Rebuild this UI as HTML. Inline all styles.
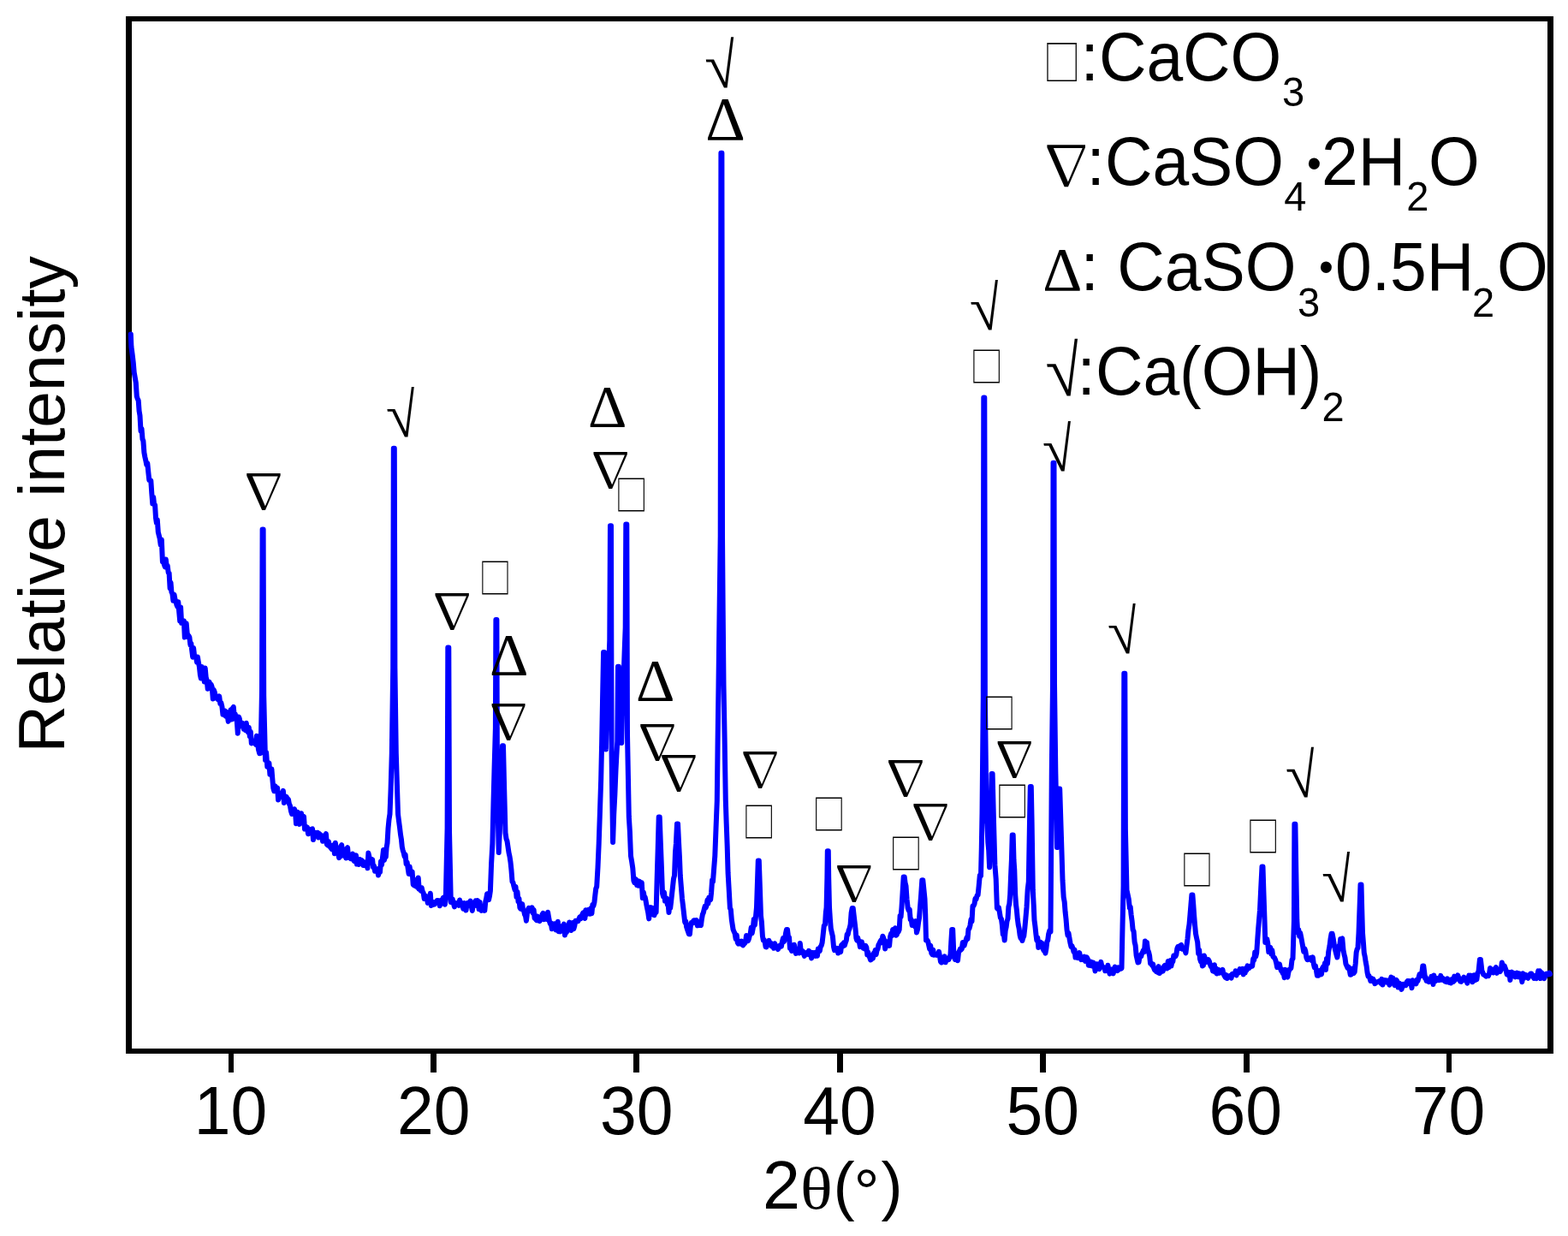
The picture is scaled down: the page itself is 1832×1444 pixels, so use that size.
<!DOCTYPE html>
<html lang="en"><head><meta charset="utf-8"><title>XRD pattern</title>
<style>html,body{margin:0;padding:0;background:#fff}svg{display:block}</style></head>
<body>
<svg width="1832" height="1444" viewBox="0 0 1832 1444">
<rect x="0" y="0" width="1832" height="1444" fill="#fff"/>
<g fill="#000">
<rect x="147" y="19" width="1668" height="6"/>
<rect x="147" y="1225" width="1668" height="6"/>
<rect x="147" y="19" width="7" height="1212"/>
<rect x="1808" y="19" width="7" height="1212"/>
<rect x="267" y="1230" width="6" height="23"/>
<rect x="503" y="1230" width="7" height="23"/>
<rect x="740" y="1230" width="7" height="23"/>
<rect x="978" y="1230" width="7" height="23"/>
<rect x="1215" y="1230" width="7" height="23"/>
<rect x="1453" y="1230" width="7" height="23"/>
<rect x="1690" y="1230" width="6" height="23"/>
</g>
<g transform="scale(1 1.04)" font-family="'Liberation Sans', sans-serif" font-size="76.8" fill="#000" text-anchor="middle">
<text x="269.5" y="1273.85">10</text>
<text x="506.7" y="1273.85">20</text>
<text x="743.8" y="1273.85">30</text>
<text x="981.0" y="1273.85">40</text>
<text x="1218.2" y="1273.85">50</text>
<text x="1455.3" y="1273.85">60</text>
<text x="1692.5" y="1273.85">70</text>
</g>
<text font-family="'Liberation Sans', sans-serif" font-size="76.8"><tspan x="891" y="1411.6" font-size="79">2</tspan><tspan x="935.0" y="1412.2" font-family="'Liberation Serif', 'Noto Serif CJK SC', serif" font-size="68.8" textLength="37.7" lengthAdjust="spacingAndGlyphs">θ</tspan><tspan x="973.6" y="1411.1" font-size="75.5">(</tspan><tspan x="997.6" y="1418.1" font-size="75">°</tspan><tspan x="1029.5" y="1411.1" font-size="75.5">)</tspan></text>
<text transform="translate(75.4 879.6) rotate(-90)" font-family="'Liberation Sans', sans-serif" font-size="76.8">Relative intensity</text>
<path d="M152.8,390.5 L153.4,405.0 L154.6,414.0 L155.7,423.0 L156.7,434.9 L157.8,441.2 L158.8,447.2 L159.8,463.0 L160.7,465.7 L161.7,467.9 L162.6,480.3 L163.5,485.6 L164.5,503.4 L165.5,500.7 L166.5,513.0 L167.4,515.2 L168.4,528.7 L169.4,534.1 L170.3,538.0 L171.3,543.3 L172.3,541.2 L173.3,551.6 L174.3,560.9 L175.3,561.0 L176.3,561.5 L177.3,576.4 L178.3,588.6 L179.2,580.7 L180.1,589.2 L181.1,590.1 L182.0,605.0 L182.9,611.0 L183.8,607.2 L184.8,621.6 L185.7,625.3 L186.6,628.7 L187.7,636.6 L188.8,630.5 L189.9,656.0 L190.9,654.4 L191.8,659.4 L192.8,662.3 L193.8,653.5 L194.8,662.2 L195.7,660.8 L196.7,669.0 L197.6,669.4 L198.6,687.1 L199.5,680.6 L200.4,691.5 L201.4,693.6 L202.4,701.8 L203.5,694.6 L204.5,700.0 L205.5,703.0 L206.4,706.5 L207.4,708.9 L208.3,703.3 L209.2,714.5 L210.2,725.6 L211.1,709.4 L212.1,727.8 L213.0,725.0 L213.9,728.0 L214.9,725.3 L215.8,744.6 L216.8,738.8 L217.7,728.3 L218.6,738.8 L219.6,744.2 L220.5,742.7 L221.4,744.6 L222.4,753.4 L223.3,751.7 L224.2,759.6 L225.2,767.7 L226.1,757.1 L227.1,766.0 L228.0,767.8 L229.0,767.3 L230.0,773.6 L230.9,767.5 L231.9,773.9 L232.9,778.9 L233.9,788.4 L234.8,792.5 L235.8,778.9 L236.8,790.0 L237.8,785.9 L238.8,796.4 L239.7,780.4 L240.7,791.4 L241.7,794.9 L242.7,804.8 L243.6,802.3 L244.6,796.8 L245.6,800.0 L246.7,799.8 L247.7,802.8 L248.8,816.5 L249.8,806.1 L250.9,809.1 L251.9,815.6 L253.0,815.5 L254.1,816.4 L255.1,817.6 L256.2,813.3 L257.3,822.1 L258.3,821.0 L259.4,825.5 L260.4,834.8 L261.5,833.1 L262.5,830.4 L263.6,836.6 L264.6,831.7 L265.7,835.6 L266.7,842.9 L267.7,836.6 L268.7,840.9 L269.7,829.2 L270.8,840.4 L271.8,827.6 L272.8,825.9 L273.8,837.6 L274.8,834.3 L275.8,840.6 L276.8,842.4 L277.8,856.7 L278.8,837.4 L279.8,839.5 L280.8,845.6 L281.8,848.2 L282.8,844.6 L283.8,845.2 L284.8,851.8 L285.8,848.0 L286.8,853.1 L287.8,844.8 L288.8,852.8 L289.8,855.3 L290.8,850.0 L291.8,860.3 L292.8,854.8 L293.8,868.4 L294.8,865.2 L295.8,865.7 L296.8,868.0 L297.9,865.3 L298.9,870.0 L299.9,859.8 L301.0,867.0 L302.0,875.8 L303.2,880.2 L304.5,880.0 L305.3,842.8 L306.0,806.8 L306.6,618.5 L307.6,618.5 L308.2,812.5 L309.1,850.5 L310.0,888.0 L311.1,879.0 L312.3,895.9 L313.4,893.0 L314.4,891.5 L315.4,904.8 L316.4,904.6 L317.4,898.4 L318.4,911.0 L319.3,920.7 L320.3,924.3 L321.2,918.1 L322.2,919.4 L323.1,922.6 L324.1,920.5 L325.1,934.6 L326.0,931.0 L327.0,928.0 L328.0,930.7 L328.9,926.6 L329.9,927.5 L330.9,923.9 L331.9,938.0 L332.8,930.1 L333.8,936.4 L334.8,931.0 L335.8,934.4 L336.9,933.9 L337.9,939.2 L338.9,941.3 L340.0,947.7 L341.0,951.0 L342.0,949.5 L343.0,950.4 L344.0,945.2 L345.0,948.8 L346.0,962.2 L347.0,950.5 L348.0,949.0 L349.0,956.8 L350.0,962.9 L351.0,956.0 L352.0,950.2 L353.0,958.5 L354.0,958.1 L355.0,954.0 L356.0,968.6 L357.0,966.5 L358.0,968.8 L359.0,966.4 L360.0,974.2 L361.0,973.7 L362.0,971.2 L363.0,973.3 L364.0,968.6 L365.0,968.3 L366.0,981.1 L367.0,972.1 L368.0,976.2 L369.0,974.8 L370.0,972.9 L371.0,972.7 L372.0,978.5 L373.0,974.0 L374.0,974.9 L375.0,976.0 L376.0,976.0 L377.0,982.8 L378.0,981.3 L379.0,980.8 L379.9,977.2 L380.9,974.2 L381.9,986.5 L382.9,987.6 L383.9,983.2 L384.9,987.5 L385.8,989.6 L386.8,990.8 L387.8,992.2 L388.8,988.8 L389.8,987.2 L390.9,997.3 L391.9,984.7 L393.0,995.4 L394.0,994.3 L395.1,996.7 L396.1,1002.1 L397.1,1000.8 L398.2,989.0 L399.2,987.1 L400.3,999.5 L401.3,996.3 L402.3,992.3 L403.2,997.7 L404.2,1002.5 L405.2,991.6 L406.1,990.2 L407.1,1002.0 L408.1,1001.7 L409.1,1001.1 L410.0,1003.2 L411.0,999.8 L412.0,997.6 L412.9,1004.5 L413.9,1006.0 L414.9,1002.0 L416.0,999.3 L417.0,1009.6 L418.1,1007.4 L419.1,1009.9 L420.1,1004.0 L421.2,1005.9 L422.2,1004.8 L423.3,1005.7 L424.3,1011.0 L425.4,1007.1 L426.4,1011.0 L427.4,1010.6 L428.4,1008.5 L429.4,1014.3 L430.4,996.6 L431.4,1001.0 L432.3,1007.5 L433.2,1005.4 L434.2,1008.1 L435.1,1004.1 L436.0,1013.0 L437.0,1011.7 L438.0,1017.8 L439.0,1014.9 L440.0,1016.4 L441.0,1015.5 L442.0,1022.6 L443.0,1018.2 L444.0,1019.0 L445.0,1006.4 L446.0,1010.3 L447.0,1001.7 L448.0,993.0 L449.0,1005.0 L449.9,997.5 L450.8,1001.3 L451.6,990.2 L452.5,985.0 L453.5,967.8 L454.5,957.5 L455.5,951.0 L456.6,922.0 L457.8,880.0 L459.2,780.3 L459.8,523.8 L460.8,523.8 L461.4,780.3 L462.8,880.0 L463.9,916.4 L465.0,951.0 L466.0,959.2 L467.0,966.7 L468.0,975.0 L468.9,980.4 L469.8,989.4 L470.7,993.4 L471.6,996.0 L472.6,1000.6 L473.6,998.4 L474.6,1009.1 L475.6,1007.3 L476.6,1014.0 L477.6,1020.9 L478.6,1012.4 L479.6,1019.4 L480.6,1022.0 L481.6,1018.3 L482.7,1033.4 L483.7,1034.3 L484.7,1028.0 L485.7,1035.3 L486.7,1034.0 L487.7,1036.8 L488.7,1025.6 L489.7,1038.8 L490.7,1038.7 L491.7,1040.6 L492.7,1037.1 L493.7,1041.6 L494.7,1043.3 L495.7,1050.1 L496.7,1046.5 L497.7,1048.6 L498.7,1048.0 L499.7,1054.9 L500.7,1047.3 L501.8,1048.7 L502.8,1043.8 L503.8,1058.0 L504.8,1056.3 L505.8,1056.9 L506.8,1054.0 L507.8,1056.4 L508.8,1053.9 L509.8,1054.1 L510.8,1052.0 L511.8,1051.9 L512.8,1052.7 L513.8,1058.3 L514.8,1054.2 L515.8,1051.5 L516.8,1051.5 L517.8,1048.8 L518.8,1048.2 L519.8,1056.8 L520.8,1050.0 L521.7,1009.1 L522.6,967.8 L523.3,756.5 L524.3,756.5 L525.0,970.7 L525.9,1012.4 L526.8,1054.0 L527.8,1053.1 L528.8,1050.6 L529.9,1055.2 L530.9,1059.4 L531.9,1056.5 L532.9,1055.2 L534.0,1056.1 L535.0,1056.3 L536.1,1057.9 L537.1,1051.5 L538.2,1057.0 L539.2,1054.8 L540.3,1058.4 L541.3,1061.6 L542.4,1055.0 L543.4,1060.0 L544.5,1063.5 L545.5,1056.1 L546.5,1054.8 L547.6,1057.7 L548.6,1056.7 L549.7,1052.6 L550.7,1058.1 L551.8,1064.0 L552.8,1055.9 L553.8,1055.1 L554.7,1055.5 L555.7,1052.4 L556.7,1057.9 L557.6,1052.0 L558.6,1052.7 L559.6,1062.2 L560.6,1053.9 L561.5,1061.8 L562.5,1063.8 L563.5,1059.0 L564.4,1060.4 L565.4,1058.4 L566.3,1063.9 L567.3,1053.2 L568.2,1049.4 L569.1,1044.2 L570.1,1047.6 L571.0,1051.2 L572.0,1046.9 L572.9,1040.8 L574.1,1008.9 L575.4,985.5 L576.5,938.1 L577.5,900.0 L578.9,850.7 L579.4,724.0 L580.4,724.0 L581.0,919.8 L581.9,957.8 L582.7,996.0 L583.9,969.5 L585.0,940.0 L586.0,905.6 L587.0,871.3 L588.0,871.3 L589.2,922.2 L590.5,973.0 L591.5,980.0 L592.5,982.6 L593.5,989.4 L594.5,996.1 L595.5,1000.6 L596.5,1007.3 L597.5,1016.9 L598.5,1029.9 L599.5,1031.3 L600.5,1035.8 L601.5,1039.5 L602.5,1035.9 L603.5,1047.9 L604.5,1042.0 L605.5,1053.3 L606.4,1049.6 L607.4,1060.4 L608.3,1061.7 L609.2,1060.3 L610.2,1056.2 L611.1,1063.2 L612.1,1063.9 L613.0,1068.4 L614.0,1070.2 L614.9,1075.7 L615.9,1067.3 L616.8,1062.9 L617.8,1060.8 L618.7,1064.4 L619.6,1063.4 L620.6,1063.4 L621.6,1060.3 L622.6,1066.4 L623.6,1062.8 L624.6,1072.6 L625.7,1073.7 L626.7,1075.0 L627.7,1070.5 L628.7,1075.4 L629.7,1074.3 L630.7,1076.0 L631.6,1073.6 L632.6,1072.8 L633.5,1068.3 L634.5,1066.8 L635.4,1074.2 L636.3,1069.6 L637.3,1070.2 L638.2,1068.4 L639.1,1074.0 L640.1,1065.7 L641.0,1071.2 L642.0,1076.6 L642.9,1079.3 L643.8,1078.4 L644.8,1085.3 L645.7,1083.5 L646.7,1084.2 L647.7,1079.2 L648.7,1080.2 L649.7,1086.4 L650.8,1085.2 L651.8,1076.7 L652.8,1088.3 L653.8,1085.6 L654.8,1088.3 L655.8,1083.5 L656.8,1082.1 L657.9,1082.4 L658.9,1079.5 L660.0,1092.5 L661.0,1082.9 L662.0,1089.2 L663.1,1081.2 L664.1,1084.1 L665.2,1077.5 L666.2,1082.1 L667.3,1087.0 L668.3,1083.5 L669.3,1078.0 L670.3,1085.3 L671.3,1081.7 L672.3,1075.7 L673.3,1076.6 L674.4,1075.8 L675.4,1076.2 L676.4,1073.5 L677.4,1071.4 L678.4,1073.4 L679.4,1071.5 L680.4,1068.1 L681.4,1066.3 L682.4,1070.2 L683.4,1073.0 L684.4,1063.2 L685.4,1068.2 L686.4,1064.9 L687.4,1063.0 L688.4,1065.9 L689.4,1067.7 L690.4,1060.9 L691.4,1067.2 L692.4,1056.9 L693.4,1058.4 L694.4,1054.3 L695.3,1046.2 L696.2,1038.4 L697.2,1035.8 L698.5,1013.3 L699.7,985.5 L701.0,947.0 L702.2,910.2 L703.1,869.0 L704.0,820.0 L705.1,762.0 L706.1,762.0 L707.0,818.7 L707.9,875.4 L708.8,843.2 L709.6,824.5 L710.5,800.0 L711.4,774.0 L712.3,748.0 L713.0,614.3 L714.0,614.3 L714.6,880.5 L715.3,932.5 L716.1,984.0 L717.2,951.3 L718.4,927.8 L719.5,900.0 L720.4,882.5 L721.3,866.1 L722.0,778.8 L723.0,778.8 L724.1,808.7 L725.1,837.9 L726.2,868.0 L727.1,826.9 L728.1,808.9 L729.0,780.0 L729.8,756.9 L730.7,733.1 L731.3,612.5 L732.3,612.5 L733.0,858.4 L733.9,905.7 L734.8,954.0 L735.9,971.6 L737.0,1000.0 L738.1,1006.2 L739.3,1014.2 L740.4,1028.8 L741.3,1031.1 L742.3,1026.8 L743.2,1027.8 L744.1,1034.1 L745.1,1029.1 L746.0,1034.8 L747.0,1029.6 L747.9,1034.4 L748.9,1031.7 L749.8,1031.4 L750.8,1049.0 L751.8,1042.4 L752.7,1047.0 L753.7,1048.3 L754.6,1052.7 L755.5,1057.9 L756.3,1061.9 L757.2,1066.2 L758.2,1073.4 L759.3,1062.2 L760.3,1060.2 L761.4,1062.3 L762.4,1061.0 L763.5,1068.9 L764.5,1069.2 L765.6,1062.4 L766.6,1066.0 L767.6,1028.4 L768.7,991.6 L769.7,954.5 L770.7,954.5 L771.8,984.7 L772.9,1013.1 L774.0,1043.7 L775.0,1047.4 L776.0,1042.5 L777.0,1052.6 L778.0,1050.0 L778.9,1049.7 L779.8,1056.9 L780.6,1056.2 L781.5,1066.0 L782.4,1057.0 L783.2,1060.9 L784.1,1053.5 L785.0,1045.0 L786.0,1036.0 L787.0,1026.6 L788.0,1023.0 L789.0,995.5 L789.9,985.5 L791.0,962.5 L792.0,962.5 L793.1,985.5 L794.0,1002.4 L794.8,1023.0 L795.9,1036.4 L797.0,1050.0 L798.1,1058.8 L799.1,1067.9 L800.2,1077.4 L801.2,1076.2 L802.1,1082.8 L803.0,1085.7 L804.0,1088.6 L804.9,1091.2 L805.9,1091.4 L806.8,1082.3 L807.7,1078.1 L808.7,1078.7 L809.6,1077.0 L810.6,1075.2 L811.7,1075.2 L812.7,1078.1 L813.8,1075.0 L814.8,1081.4 L815.9,1079.3 L816.9,1081.0 L818.0,1079.9 L819.0,1081.0 L819.9,1073.7 L820.9,1068.2 L821.8,1066.2 L822.7,1062.4 L823.6,1058.9 L824.6,1060.5 L825.5,1058.1 L826.5,1051.4 L827.4,1055.5 L828.3,1048.5 L829.3,1050.0 L830.2,1051.0 L831.1,1042.8 L832.1,1028.3 L833.0,1030.0 L834.1,1015.4 L835.3,1000.0 L836.5,968.4 L837.8,935.3 L838.6,866.6 L839.5,800.0 L840.6,712.9 L841.7,626.1 L842.4,178.8 L843.4,178.8 L844.0,626.1 L844.7,712.9 L845.5,800.0 L846.6,861.3 L847.8,935.0 L848.7,962.0 L849.7,989.0 L850.6,1020.0 L851.8,1040.8 L852.9,1060.9 L853.8,1062.6 L854.8,1074.3 L855.7,1080.2 L856.6,1086.0 L857.6,1088.5 L858.6,1090.5 L859.7,1096.9 L860.7,1092.4 L861.7,1101.0 L862.6,1102.7 L863.6,1102.1 L864.5,1102.4 L865.5,1102.9 L866.4,1099.6 L867.3,1101.1 L868.3,1104.3 L869.2,1102.3 L870.1,1102.3 L871.1,1100.2 L872.0,1093.0 L873.0,1098.5 L873.9,1099.2 L874.8,1097.3 L875.8,1093.2 L876.7,1091.0 L877.7,1083.6 L878.7,1090.3 L879.8,1084.5 L880.8,1074.0 L881.8,1081.0 L882.9,1071.9 L884.0,1060.0 L884.9,1032.4 L885.8,1005.6 L886.8,1005.6 L887.9,1037.4 L889.0,1070.0 L889.9,1077.2 L890.9,1093.4 L891.8,1098.5 L892.7,1097.9 L893.7,1100.7 L894.6,1106.3 L895.5,1106.4 L896.5,1101.3 L897.4,1101.5 L898.4,1098.8 L899.3,1103.6 L900.3,1101.5 L901.2,1105.4 L902.2,1105.5 L903.2,1104.7 L904.1,1107.8 L905.1,1102.2 L906.1,1104.7 L907.1,1107.5 L908.0,1107.2 L909.0,1109.0 L910.0,1106.9 L910.9,1104.8 L911.9,1106.0 L912.9,1105.7 L914.0,1099.7 L915.0,1096.0 L916.0,1100.0 L917.0,1097.3 L918.0,1090.5 L919.0,1086.0 L920.0,1086.0 L921.0,1094.4 L922.0,1095.0 L923.0,1108.0 L924.0,1108.3 L925.0,1111.0 L926.0,1109.1 L927.0,1108.2 L927.9,1103.8 L928.9,1109.9 L929.9,1113.9 L930.9,1112.2 L931.8,1109.1 L932.8,1111.0 L933.8,1113.4 L934.8,1102.1 L935.7,1110.6 L936.7,1112.7 L937.7,1111.0 L938.7,1113.4 L939.8,1116.9 L940.8,1115.3 L941.9,1112.9 L942.9,1113.0 L944.0,1114.8 L945.0,1110.8 L946.0,1112.6 L947.1,1115.8 L948.1,1119.4 L949.2,1112.9 L950.2,1113.6 L951.2,1113.1 L952.1,1113.6 L953.0,1116.9 L954.0,1112.2 L955.0,1116.7 L955.9,1108.6 L956.8,1110.7 L957.8,1111.0 L958.7,1106.0 L959.6,1104.9 L960.6,1101.4 L961.5,1093.5 L962.8,1081.4 L964.0,1080.0 L964.8,1066.6 L965.6,1060.0 L966.4,1025.0 L966.8,994.3 L967.8,994.3 L968.2,1025.0 L969.0,1060.0 L969.9,1073.7 L970.8,1085.0 L971.9,1089.7 L972.9,1093.9 L974.0,1106.0 L975.0,1110.2 L976.1,1109.3 L977.1,1110.1 L978.2,1107.8 L979.2,1113.5 L980.3,1111.0 L981.2,1109.0 L982.2,1112.1 L983.1,1104.3 L984.1,1103.2 L985.0,1105.4 L986.0,1101.2 L986.9,1104.5 L987.9,1101.0 L988.8,1098.7 L989.7,1091.4 L990.7,1091.7 L991.6,1087.0 L992.5,1085.0 L993.6,1080.3 L994.6,1066.6 L995.7,1060.9 L996.7,1060.9 L997.6,1068.8 L998.6,1077.3 L999.5,1085.0 L1000.4,1096.2 L1001.2,1098.7 L1002.1,1095.3 L1003.0,1098.5 L1003.9,1100.5 L1004.9,1106.1 L1005.8,1101.9 L1006.8,1100.3 L1007.7,1105.2 L1008.6,1107.6 L1009.6,1104.6 L1010.5,1108.6 L1011.4,1104.9 L1012.4,1107.1 L1013.3,1115.4 L1014.2,1112.4 L1015.2,1115.9 L1016.1,1118.6 L1017.1,1121.4 L1018.0,1121.0 L1018.9,1118.4 L1019.9,1119.5 L1020.8,1113.6 L1021.8,1113.7 L1022.7,1110.0 L1023.6,1115.3 L1024.6,1110.1 L1025.5,1108.6 L1026.5,1103.7 L1027.4,1102.4 L1028.3,1100.3 L1029.3,1098.5 L1030.3,1101.1 L1031.3,1093.7 L1032.2,1095.8 L1033.2,1098.3 L1034.2,1108.4 L1035.2,1103.4 L1036.1,1100.1 L1037.1,1103.1 L1038.1,1101.0 L1039.1,1104.9 L1040.1,1094.2 L1041.1,1090.7 L1042.1,1093.2 L1043.1,1086.0 L1044.0,1087.7 L1045.0,1088.4 L1046.0,1084.2 L1046.9,1092.8 L1047.8,1092.0 L1048.8,1088.0 L1049.8,1088.4 L1050.7,1086.0 L1051.6,1069.9 L1052.6,1071.1 L1053.5,1060.0 L1054.6,1042.2 L1055.7,1024.5 L1056.7,1024.5 L1057.6,1031.6 L1058.5,1035.0 L1059.6,1050.7 L1060.7,1060.9 L1061.7,1063.6 L1062.7,1062.6 L1063.7,1074.3 L1064.7,1074.3 L1065.7,1081.0 L1066.8,1080.6 L1067.8,1080.5 L1068.8,1082.3 L1069.9,1076.1 L1071.0,1089.5 L1072.0,1086.0 L1073.0,1078.3 L1074.0,1072.8 L1075.0,1060.0 L1076.2,1044.7 L1077.3,1028.2 L1078.3,1028.2 L1079.4,1039.1 L1080.5,1050.0 L1081.2,1067.6 L1082.0,1098.5 L1083.0,1098.0 L1084.1,1099.5 L1085.2,1104.4 L1086.2,1108.8 L1087.2,1104.7 L1088.3,1113.6 L1089.3,1115.1 L1090.2,1109.6 L1091.2,1115.7 L1092.2,1114.8 L1093.1,1114.5 L1094.1,1115.7 L1095.1,1114.6 L1096.1,1114.8 L1097.0,1111.8 L1098.0,1117.4 L1099.0,1123.6 L1099.9,1124.4 L1100.9,1118.6 L1101.8,1123.0 L1102.8,1121.4 L1103.7,1117.4 L1104.7,1124.3 L1105.6,1119.9 L1106.5,1120.2 L1107.5,1119.8 L1108.4,1121.0 L1109.5,1118.3 L1110.5,1115.0 L1111.3,1100.4 L1112.2,1086.0 L1113.2,1086.0 L1114.5,1118.0 L1115.2,1119.2 L1116.0,1121.0 L1117.0,1115.6 L1118.0,1115.8 L1119.0,1122.2 L1120.0,1112.8 L1121.0,1111.0 L1121.9,1108.7 L1122.9,1109.6 L1123.8,1108.6 L1124.8,1101.1 L1125.7,1102.5 L1126.6,1104.7 L1127.6,1101.0 L1128.5,1098.5 L1129.5,1095.4 L1130.5,1096.9 L1131.5,1085.6 L1132.5,1084.8 L1133.5,1081.0 L1134.5,1074.1 L1135.5,1076.5 L1136.5,1058.5 L1137.5,1058.3 L1138.5,1055.9 L1139.5,1049.8 L1140.5,1050.5 L1141.6,1046.3 L1142.6,1045.6 L1143.6,1035.8 L1144.8,1022.8 L1146.0,1023.2 L1146.8,990.2 L1147.5,950.0 L1148.8,814.1 L1149.3,464.5 L1150.3,464.5 L1150.9,814.1 L1151.7,881.9 L1152.5,950.0 L1153.4,962.4 L1154.3,984.2 L1155.2,993.1 L1156.1,1013.2 L1157.5,960.0 L1158.6,903.9 L1159.6,903.9 L1161.0,960.0 L1162.4,1010.7 L1163.7,1027.1 L1164.9,1060.9 L1165.9,1062.0 L1166.9,1060.2 L1167.9,1066.0 L1168.9,1072.3 L1169.9,1073.4 L1170.9,1080.8 L1171.8,1091.6 L1172.8,1091.5 L1173.7,1098.5 L1174.7,1086.9 L1175.6,1083.3 L1176.5,1076.4 L1177.5,1073.4 L1178.4,1059.3 L1179.3,1056.2 L1180.2,1045.0 L1181.1,1022.2 L1181.9,1005.0 L1182.7,975.5 L1183.7,975.5 L1184.5,1005.0 L1185.3,1016.4 L1186.2,1045.0 L1187.1,1057.2 L1187.9,1063.5 L1188.8,1073.4 L1189.7,1080.3 L1190.7,1085.1 L1191.6,1092.5 L1192.5,1096.0 L1193.5,1095.5 L1194.4,1099.0 L1195.3,1095.6 L1196.3,1093.5 L1197.4,1083.7 L1198.4,1072.7 L1199.5,1060.0 L1200.7,1039.1 L1201.8,1030.0 L1203.0,960.0 L1203.8,919.0 L1204.8,919.0 L1205.6,960.0 L1206.8,1040.0 L1207.7,1056.9 L1208.5,1075.0 L1209.4,1081.9 L1210.4,1091.4 L1211.3,1098.5 L1212.3,1095.4 L1213.3,1106.9 L1214.4,1103.3 L1215.4,1100.5 L1216.4,1106.0 L1217.4,1102.0 L1218.4,1108.1 L1219.4,1110.3 L1220.4,1109.8 L1221.4,1113.6 L1222.4,1108.2 L1223.3,1100.2 L1224.2,1098.5 L1225.2,1091.0 L1226.3,1087.2 L1227.5,1088.5 L1228.8,900.0 L1230.0,799.4 L1230.5,540.7 L1231.5,540.7 L1232.0,799.4 L1233.3,900.0 L1234.2,944.8 L1235.0,990.0 L1236.3,960.0 L1237.2,921.5 L1238.2,921.5 L1239.2,953.8 L1240.2,985.5 L1241.5,1028.3 L1242.7,1048.3 L1243.7,1053.8 L1244.6,1065.4 L1245.5,1073.5 L1246.5,1086.0 L1247.5,1092.7 L1248.5,1090.1 L1249.5,1096.4 L1250.5,1101.9 L1251.5,1106.0 L1252.5,1105.3 L1253.5,1108.0 L1254.5,1112.1 L1255.5,1109.5 L1256.5,1118.6 L1257.4,1114.1 L1258.4,1117.3 L1259.3,1119.1 L1260.2,1118.0 L1261.2,1113.1 L1262.1,1117.2 L1263.1,1121.1 L1264.0,1118.6 L1265.0,1120.9 L1265.9,1119.5 L1266.9,1117.6 L1267.9,1122.9 L1268.8,1119.7 L1269.8,1118.5 L1270.8,1120.2 L1271.8,1127.7 L1272.7,1124.5 L1273.7,1128.0 L1274.7,1123.6 L1275.6,1128.4 L1276.6,1126.2 L1277.6,1124.7 L1278.5,1126.3 L1279.5,1134.5 L1280.5,1129.7 L1281.4,1126.2 L1282.4,1127.7 L1283.4,1129.2 L1284.4,1132.1 L1285.3,1127.4 L1286.3,1123.9 L1287.3,1128.6 L1288.2,1129.8 L1289.2,1130.0 L1290.2,1130.5 L1291.3,1134.3 L1292.3,1131.5 L1293.4,1133.2 L1294.4,1127.8 L1295.5,1133.8 L1296.5,1137.6 L1297.5,1133.9 L1298.6,1132.5 L1299.6,1132.5 L1300.7,1137.4 L1301.7,1132.4 L1302.7,1129.5 L1303.7,1131.8 L1304.6,1133.4 L1305.6,1134.1 L1306.6,1130.4 L1307.6,1132.5 L1308.5,1130.6 L1309.5,1131.7 L1310.5,1131.2 L1311.5,1082.9 L1312.6,1034.8 L1313.3,786.8 L1314.3,786.8 L1314.9,969.1 L1315.7,1004.2 L1316.5,1040.0 L1317.7,1045.3 L1318.8,1050.7 L1319.8,1060.4 L1320.7,1059.5 L1321.6,1068.6 L1322.6,1075.8 L1323.6,1086.2 L1324.6,1088.2 L1325.6,1100.5 L1326.6,1104.5 L1327.6,1116.0 L1328.5,1120.2 L1329.5,1124.5 L1330.5,1124.2 L1331.4,1118.5 L1332.3,1116.1 L1333.2,1117.4 L1334.2,1113.8 L1335.1,1112.0 L1336.0,1110.0 L1337.0,1112.0 L1337.9,1099.6 L1338.9,1100.9 L1339.9,1100.9 L1341.0,1109.9 L1342.0,1112.0 L1343.1,1116.5 L1344.1,1125.7 L1345.2,1126.0 L1346.1,1127.8 L1347.1,1126.5 L1348.0,1130.6 L1349.0,1133.2 L1349.9,1132.4 L1350.8,1134.9 L1351.8,1133.2 L1352.7,1136.0 L1353.7,1129.1 L1354.7,1137.1 L1355.7,1135.8 L1356.7,1133.4 L1357.8,1132.5 L1358.8,1134.5 L1359.8,1129.4 L1360.8,1127.9 L1361.8,1128.7 L1362.8,1128.5 L1363.7,1131.4 L1364.7,1123.1 L1365.6,1130.2 L1366.5,1124.1 L1367.5,1122.1 L1368.4,1128.6 L1369.4,1123.8 L1370.3,1123.5 L1371.3,1116.5 L1372.3,1116.3 L1373.3,1117.4 L1374.3,1115.2 L1375.3,1108.4 L1376.2,1106.1 L1377.2,1107.8 L1378.1,1107.9 L1379.1,1104.6 L1380.1,1104.0 L1381.2,1108.7 L1382.2,1108.9 L1383.3,1108.7 L1384.4,1110.4 L1385.4,1113.4 L1386.4,1105.3 L1387.5,1096.8 L1388.5,1086.4 L1389.5,1080.0 L1390.5,1068.4 L1391.4,1057.4 L1392.4,1045.6 L1393.4,1045.6 L1394.3,1057.1 L1395.1,1068.8 L1396.0,1080.0 L1397.1,1091.2 L1398.1,1096.0 L1399.2,1100.9 L1400.2,1114.0 L1401.1,1109.6 L1402.0,1120.4 L1403.0,1123.5 L1404.0,1122.3 L1404.9,1128.6 L1405.9,1127.9 L1406.9,1116.4 L1407.8,1119.1 L1408.8,1123.9 L1409.8,1124.0 L1410.7,1123.5 L1411.7,1121.0 L1412.8,1122.9 L1413.8,1126.5 L1414.8,1129.2 L1415.9,1129.1 L1417.0,1134.4 L1418.0,1133.5 L1418.9,1127.2 L1419.9,1136.0 L1420.8,1131.4 L1421.8,1137.5 L1422.7,1134.4 L1423.6,1132.8 L1424.6,1136.8 L1425.5,1136.0 L1426.5,1133.9 L1427.5,1134.4 L1428.5,1133.0 L1429.5,1137.9 L1430.5,1139.9 L1431.6,1141.9 L1432.6,1139.1 L1433.6,1143.0 L1434.6,1140.6 L1435.6,1141.0 L1436.6,1140.2 L1437.6,1141.6 L1438.6,1142.5 L1439.6,1138.0 L1440.6,1137.8 L1441.6,1137.5 L1442.6,1137.7 L1443.6,1134.4 L1444.6,1139.5 L1445.6,1136.0 L1446.6,1134.3 L1447.6,1136.3 L1448.6,1132.1 L1449.6,1135.0 L1450.7,1134.6 L1451.7,1131.8 L1452.7,1138.4 L1453.7,1133.1 L1454.7,1136.7 L1455.7,1131.0 L1456.6,1133.5 L1457.6,1128.4 L1458.5,1128.9 L1459.5,1131.0 L1460.4,1129.6 L1461.3,1129.3 L1462.3,1128.0 L1463.2,1128.5 L1464.2,1120.0 L1465.2,1121.8 L1466.2,1112.6 L1467.2,1117.6 L1468.2,1113.4 L1469.2,1098.4 L1470.1,1085.8 L1471.0,1074.9 L1472.0,1063.2 L1473.2,1037.9 L1474.5,1012.5 L1475.5,1012.5 L1476.4,1041.5 L1477.4,1070.9 L1478.3,1100.9 L1479.3,1098.9 L1480.3,1097.2 L1481.3,1102.2 L1482.3,1112.1 L1483.3,1108.4 L1484.3,1107.0 L1485.3,1114.5 L1486.3,1110.1 L1487.3,1117.4 L1488.3,1118.5 L1489.2,1119.1 L1490.2,1121.4 L1491.2,1124.9 L1492.1,1130.1 L1493.0,1126.9 L1494.0,1128.2 L1495.0,1126.5 L1495.9,1131.0 L1496.8,1134.0 L1497.8,1132.8 L1498.7,1137.2 L1499.7,1135.9 L1500.6,1142.2 L1501.5,1132.8 L1502.5,1138.9 L1503.4,1141.0 L1504.4,1141.5 L1505.4,1136.0 L1506.4,1132.7 L1507.4,1132.2 L1508.4,1131.0 L1509.5,1121.3 L1510.5,1120.0 L1511.9,1076.0 L1512.4,962.8 L1513.4,962.8 L1514.3,1018.9 L1515.3,1075.0 L1516.2,1089.2 L1517.2,1085.8 L1518.2,1093.8 L1519.2,1090.0 L1520.2,1094.9 L1521.2,1100.5 L1522.2,1105.9 L1523.2,1111.7 L1524.3,1108.3 L1525.3,1111.3 L1526.4,1118.7 L1527.5,1121.2 L1528.5,1121.0 L1529.5,1120.7 L1530.6,1119.3 L1531.7,1118.8 L1532.7,1122.2 L1533.8,1118.4 L1534.8,1126.0 L1535.8,1130.3 L1536.9,1128.3 L1537.9,1133.7 L1538.9,1139.8 L1540.0,1139.8 L1541.0,1138.5 L1542.0,1134.0 L1543.0,1138.5 L1544.0,1138.1 L1545.0,1131.3 L1546.0,1129.5 L1547.0,1130.7 L1548.0,1125.0 L1549.0,1132.9 L1550.0,1120.0 L1551.0,1126.0 L1552.2,1112.0 L1553.5,1105.0 L1554.5,1097.0 L1555.6,1090.8 L1556.6,1090.8 L1557.8,1097.1 L1559.0,1105.0 L1560.1,1110.0 L1561.3,1114.9 L1562.4,1118.5 L1563.5,1111.1 L1564.5,1105.0 L1565.3,1104.8 L1566.2,1097.1 L1567.2,1097.1 L1568.3,1096.5 L1569.5,1110.0 L1570.5,1115.3 L1571.4,1118.5 L1572.4,1126.0 L1573.5,1128.5 L1574.5,1130.8 L1575.6,1129.6 L1576.6,1132.5 L1577.7,1138.7 L1578.7,1138.5 L1579.7,1137.0 L1580.7,1131.5 L1581.7,1137.0 L1582.7,1135.4 L1583.7,1126.0 L1584.7,1112.4 L1585.6,1109.0 L1586.5,1107.4 L1587.5,1090.0 L1588.5,1062.0 L1589.5,1033.5 L1590.5,1033.5 L1591.2,1061.8 L1592.0,1090.0 L1592.9,1101.0 L1593.8,1113.4 L1594.7,1117.4 L1595.7,1124.1 L1596.6,1128.7 L1597.5,1136.0 L1598.5,1140.6 L1599.4,1139.9 L1600.3,1142.3 L1601.3,1146.0 L1602.3,1142.8 L1603.3,1146.0 L1604.3,1143.7 L1605.3,1145.8 L1606.3,1149.2 L1607.3,1147.4 L1608.3,1147.8 L1609.3,1147.5 L1610.3,1146.7 L1611.3,1146.3 L1612.4,1145.9 L1613.4,1148.9 L1614.4,1143.9 L1615.4,1150.6 L1616.4,1147.1 L1617.4,1145.0 L1618.4,1145.8 L1619.4,1145.3 L1620.4,1147.7 L1621.4,1147.3 L1622.4,1145.5 L1623.4,1150.7 L1624.4,1145.5 L1625.4,1141.6 L1626.4,1145.9 L1627.4,1142.6 L1628.4,1148.1 L1629.4,1151.2 L1630.4,1150.2 L1631.5,1144.9 L1632.5,1146.6 L1633.5,1153.6 L1634.5,1149.8 L1635.5,1149.1 L1636.5,1152.0 L1637.5,1155.9 L1638.5,1152.9 L1639.5,1149.9 L1640.5,1150.6 L1641.5,1149.8 L1642.5,1151.2 L1643.5,1147.6 L1644.5,1146.2 L1645.5,1148.9 L1646.5,1146.0 L1647.5,1148.1 L1648.5,1148.3 L1649.5,1154.2 L1650.5,1145.2 L1651.5,1146.9 L1652.5,1146.6 L1653.5,1148.0 L1654.5,1149.4 L1655.5,1144.9 L1656.5,1146.0 L1657.5,1142.2 L1658.5,1138.4 L1659.5,1138.9 L1660.5,1140.0 L1661.4,1135.8 L1662.3,1128.5 L1663.3,1128.5 L1664.2,1135.8 L1665.0,1143.0 L1665.8,1141.7 L1666.6,1146.0 L1667.6,1144.9 L1668.6,1146.0 L1669.5,1147.2 L1670.5,1144.2 L1671.5,1145.0 L1672.5,1140.7 L1673.5,1142.5 L1674.5,1150.0 L1675.4,1139.5 L1676.4,1144.5 L1677.4,1146.0 L1678.4,1144.3 L1679.4,1143.1 L1680.4,1145.1 L1681.3,1145.2 L1682.3,1144.9 L1683.3,1139.9 L1684.3,1144.7 L1685.3,1142.6 L1686.3,1143.4 L1687.2,1145.5 L1688.2,1146.6 L1689.2,1144.8 L1690.2,1147.2 L1691.2,1143.4 L1692.2,1147.2 L1693.2,1147.9 L1694.2,1147.8 L1695.2,1148.4 L1696.2,1144.1 L1697.2,1144.0 L1698.2,1146.8 L1699.2,1140.6 L1700.2,1145.0 L1701.2,1142.9 L1702.2,1143.3 L1703.2,1139.4 L1704.2,1141.8 L1705.2,1144.1 L1706.2,1146.6 L1707.3,1146.9 L1708.3,1143.9 L1709.3,1143.5 L1710.3,1141.7 L1711.3,1145.1 L1712.3,1143.3 L1713.3,1145.6 L1714.3,1148.7 L1715.3,1143.7 L1716.3,1139.6 L1717.3,1141.4 L1718.3,1139.7 L1719.3,1140.4 L1720.3,1147.3 L1721.3,1144.2 L1722.3,1139.3 L1723.3,1145.4 L1724.3,1143.5 L1725.4,1144.2 L1726.4,1136.8 L1727.5,1135.0 L1728.9,1121.0 L1729.9,1121.0 L1730.7,1127.8 L1731.5,1135.0 L1732.3,1135.8 L1733.1,1138.5 L1734.1,1138.9 L1735.1,1139.5 L1736.1,1140.7 L1737.0,1140.4 L1738.0,1139.9 L1739.0,1140.1 L1740.0,1137.7 L1741.0,1130.9 L1742.0,1134.6 L1743.0,1135.5 L1743.9,1133.1 L1744.9,1136.4 L1745.9,1132.3 L1746.9,1133.0 L1747.9,1130.1 L1748.9,1136.9 L1749.9,1134.4 L1750.8,1133.0 L1751.8,1134.9 L1752.8,1135.1 L1753.8,1132.8 L1754.8,1124.4 L1755.8,1129.5 L1756.7,1130.0 L1757.7,1128.3 L1758.7,1131.0 L1759.6,1133.6 L1760.6,1138.5 L1761.5,1135.8 L1762.4,1139.2 L1763.4,1136.0 L1764.4,1145.0 L1765.4,1137.9 L1766.4,1135.7 L1767.4,1139.9 L1768.4,1140.4 L1769.4,1137.2 L1770.4,1141.4 L1771.4,1137.8 L1772.4,1136.6 L1773.4,1139.7 L1774.3,1141.4 L1775.3,1137.4 L1776.3,1140.1 L1777.3,1138.9 L1778.3,1147.2 L1779.3,1137.2 L1780.3,1143.1 L1781.3,1139.1 L1782.3,1138.8 L1783.3,1141.2 L1784.3,1141.7 L1785.3,1142.8 L1786.3,1139.2 L1787.3,1140.1 L1788.3,1137.4 L1789.3,1137.5 L1790.3,1140.5 L1791.2,1140.6 L1792.2,1142.9 L1793.2,1140.1 L1794.2,1141.8 L1795.2,1143.1 L1796.2,1139.2 L1797.2,1134.4 L1798.2,1135.3 L1799.1,1134.5 L1800.1,1143.1 L1801.1,1136.1 L1802.1,1141.9 L1803.1,1140.1 L1804.1,1143.2 L1805.1,1141.1 L1806.1,1137.9 L1807.0,1137.6 L1808.0,1138.4 L1809.0,1138.6 L1810.0,1136.5 L1811.0,1138.0" fill="none" stroke="#0000ff" stroke-width="6" stroke-linejoin="round" stroke-linecap="round"/>
<g fill="#000">
<text transform="matrix(0.6386 0 0.0000 0.5597 276.04 595.21)" font-family="'Liberation Serif', 'Noto Serif CJK SC', serif" font-size="100">∇</text>
<text transform="matrix(0.6785 0 0.1153 0.7333 455.65 510.20)" font-family="'Liberation Serif', serif" font-size="100">√</text>
<text transform="matrix(0.6386 0 0.0000 0.5570 496.14 734.91)" font-family="'Liberation Serif', 'Noto Serif CJK SC', serif" font-size="100">∇</text>
<text transform="matrix(0.3788 0 0.0000 0.4775 559.61 692.64)" font-family="'Noto Sans CJK SC', 'Liberation Sans', sans-serif" font-weight="100" font-size="100">□</text>
<text transform="matrix(0.7067 0 0.0000 0.6968 572.01 788.80)" font-family="'Liberation Serif', serif" font-size="100">Δ</text>
<text transform="matrix(0.6305 0 0.0000 0.5544 562.59 863.61)" font-family="'Liberation Serif', 'Noto Serif CJK SC', serif" font-size="100">∇</text>
<text transform="matrix(0.6386 0 0.0000 0.5557 681.14 569.91)" font-family="'Liberation Serif', 'Noto Serif CJK SC', serif" font-size="100">∇</text>
<text transform="matrix(0.3825 0 0.0000 0.4737 718.47 596.45)" font-family="'Noto Sans CJK SC', 'Liberation Sans', sans-serif" font-weight="100" font-size="100">□</text>
<text transform="matrix(0.7067 0 0.0000 0.6968 687.01 498.60)" font-family="'Liberation Serif', serif" font-size="100">Δ</text>
<text transform="matrix(0.7067 0 0.0000 0.7043 743.01 818.90)" font-family="'Liberation Serif', serif" font-size="100">Δ</text>
<text transform="matrix(0.6386 0 0.0000 0.5570 735.94 887.61)" font-family="'Liberation Serif', 'Noto Serif CJK SC', serif" font-size="100">∇</text>
<text transform="matrix(0.6386 0 0.0000 0.5597 761.04 924.41)" font-family="'Liberation Serif', 'Noto Serif CJK SC', serif" font-size="100">∇</text>
<text transform="matrix(0.6353 0 0.0000 0.5570 856.20 919.91)" font-family="'Liberation Serif', 'Noto Serif CJK SC', serif" font-size="100">∇</text>
<text transform="matrix(0.3825 0 0.0000 0.4737 867.38 977.55)" font-family="'Noto Sans CJK SC', 'Liberation Sans', sans-serif" font-weight="100" font-size="100">□</text>
<text transform="matrix(0.7244 0 0.0000 0.7134 824.34 163.10)" font-family="'Liberation Serif', serif" font-size="100">Δ</text>
<text transform="matrix(0.7001 0 0.1190 0.7420 828.26 101.50)" font-family="'Liberation Serif', serif" font-size="100">√</text>
<text transform="matrix(0.3837 0 0.0000 0.4775 949.36 968.54)" font-family="'Noto Sans CJK SC', 'Liberation Sans', sans-serif" font-weight="100" font-size="100">□</text>
<text transform="matrix(0.6353 0 0.0000 0.5557 966.10 1052.91)" font-family="'Liberation Serif', 'Noto Serif CJK SC', serif" font-size="100">∇</text>
<text transform="matrix(0.6434 0 0.0000 0.5557 1025.75 929.91)" font-family="'Liberation Serif', 'Noto Serif CJK SC', serif" font-size="100">∇</text>
<text transform="matrix(0.6353 0 0.0000 0.5557 1055.30 981.11)" font-family="'Liberation Serif', 'Noto Serif CJK SC', serif" font-size="100">∇</text>
<text transform="matrix(0.3838 0 0.0000 0.4800 1039.26 1014.74)" font-family="'Noto Sans CJK SC', 'Liberation Sans', sans-serif" font-weight="100" font-size="100">□</text>
<text transform="matrix(0.6337 0 0.0000 0.5557 1153.53 907.81)" font-family="'Liberation Serif', 'Noto Serif CJK SC', serif" font-size="100">∇</text>
<text transform="matrix(0.3825 0 0.0000 0.4775 1163.38 953.75)" font-family="'Noto Sans CJK SC', 'Liberation Sans', sans-serif" font-weight="100" font-size="100">□</text>
<text transform="matrix(0.3825 0 0.0000 0.4763 1148.27 850.55)" font-family="'Noto Sans CJK SC', 'Liberation Sans', sans-serif" font-weight="100" font-size="100">□</text>
<text transform="matrix(0.6828 0 0.1161 0.7333 1222.77 550.10)" font-family="'Liberation Serif', serif" font-size="100">√</text>
<text transform="matrix(0.6828 0 0.1161 0.7333 1137.67 384.90)" font-family="'Liberation Serif', serif" font-size="100">√</text>
<text transform="matrix(0.3825 0 0.0000 0.4763 1133.47 445.65)" font-family="'Noto Sans CJK SC', 'Liberation Sans', sans-serif" font-weight="100" font-size="100">□</text>
<text transform="matrix(0.6763 0 0.1150 0.7333 1298.84 763.10)" font-family="'Liberation Serif', serif" font-size="100">√</text>
<text transform="matrix(0.3787 0 0.0000 0.4775 1379.61 1033.64)" font-family="'Noto Sans CJK SC', 'Liberation Sans', sans-serif" font-weight="100" font-size="100">□</text>
<text transform="matrix(0.3825 0 0.0000 0.4763 1456.38 995.45)" font-family="'Noto Sans CJK SC', 'Liberation Sans', sans-serif" font-weight="100" font-size="100">□</text>
<text transform="matrix(0.6828 0 0.1161 0.7370 1506.77 931.30)" font-family="'Liberation Serif', serif" font-size="100">√</text>
<text transform="matrix(0.6785 0 0.1153 0.7333 1548.95 1053.20)" font-family="'Liberation Serif', serif" font-size="100">√</text>
</g>
<g fill="#000">
<text transform="matrix(0.4325 0 0.0000 0.5437 1218.97 92.61)" font-family="'Noto Sans CJK SC', 'Liberation Sans', sans-serif" font-weight="100" font-size="100">□</text>
<text transform="scale(1 1.04)" font-family="'Liberation Sans', sans-serif" font-size="76.8"><tspan x="1262.6" y="90.10">:CaCO</tspan><tspan x="1498.1" y="119.42" font-size="47">3</tspan></text>
</g>
<g fill="#000">
<text transform="matrix(0.7229 0 0.0000 0.6366 1209.42 216.55)" font-family="'Liberation Serif', 'Noto Serif CJK SC', serif" font-size="100">∇</text>
<text transform="scale(1 1.04)" font-family="'Liberation Sans', sans-serif" font-size="76.8"><tspan x="1269.6" y="207.31">:CaSO</tspan><tspan x="1500.2" y="236.63" font-size="47">4</tspan><tspan x="1527.1" y="199.56" font-size="48">•</tspan><tspan x="1544" y="207.31">2H</tspan><tspan x="1643.3" y="236.63" font-size="47">2</tspan><tspan x="1669.1" y="207.31">O</tspan></text>
</g>
<g fill="#000">
<text transform="matrix(0.7173 0 0.0000 0.7149 1218.27 339.10)" font-family="'Liberation Serif', serif" font-size="100">Δ</text>
<text transform="scale(1 1.04)" font-family="'Liberation Sans', sans-serif" font-size="76.8"><tspan x="1262.6" y="326.06">: CaSO</tspan><tspan x="1516" y="355.38" font-size="47">3</tspan><tspan x="1541.1" y="316.48" font-size="48">•</tspan><tspan x="1560" y="326.06">0.5H</tspan><tspan x="1720.1" y="355.38" font-size="47">2</tspan><tspan x="1749" y="326.06">O</tspan></text>
</g>
<g fill="#000">
<text transform="matrix(0.7757 0 0.1319 0.8386 1226.93 462.23)" font-family="'Liberation Serif', serif" font-size="100">√</text>
<text transform="scale(1 1.04)" font-family="'Liberation Sans', sans-serif" font-size="76.8"><tspan x="1258.6" y="443.65">:Ca(OH)</tspan><tspan x="1544.5" y="472.98" font-size="47">2</tspan></text>
</g>
</svg>
</body></html>
